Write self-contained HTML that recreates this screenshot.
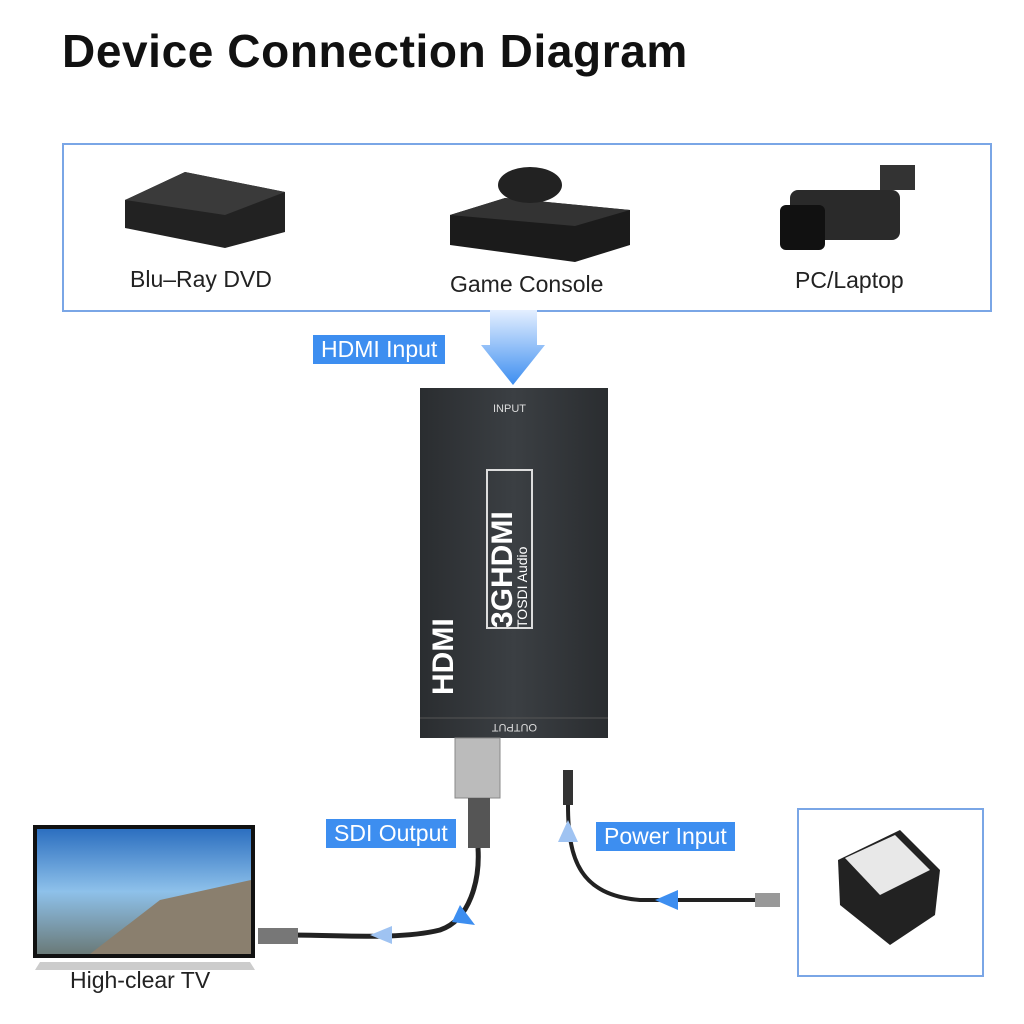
<!DOCTYPE html>
<html><head><meta charset="utf-8"><style>
body{margin:0;width:1024px;height:1024px;background:#fff;position:relative;overflow:hidden;font-family:"Liberation Sans",sans-serif}
.a{position:absolute}
.lbl{position:absolute;background:#3d8ef0;color:#fff;font-size:23px;line-height:29px;padding:0 8px}
.t{position:absolute;font-size:23px;color:#222}
</style></head><body>
<div class="a" style="left:62px;top:24px;font-size:46px;font-weight:bold;color:#111;letter-spacing:0.6px">Device Connection Diagram</div>
<div class="a" style="left:62px;top:143px;width:926px;height:165px;border:2px solid #7aa6e6"></div>
<svg class="a" style="left:0;top:0" width="1024" height="1024">
<defs>
<linearGradient id="g" x1="0" y1="0" x2="0" y2="1"><stop offset="0" stop-color="#e4efff"/><stop offset="1" stop-color="#3d8ef0"/></linearGradient>
<linearGradient id="box" x1="0" y1="0" x2="1" y2="0"><stop offset="0" stop-color="#2a2d30"/><stop offset="0.5" stop-color="#3b3f43"/><stop offset="1" stop-color="#2a2d30"/></linearGradient>
<linearGradient id="sky" x1="0" y1="0" x2="0" y2="1"><stop offset="0" stop-color="#2c6fc0"/><stop offset="0.5" stop-color="#8ec1ea"/><stop offset="1" stop-color="#6a7a78"/></linearGradient>
</defs>
<polygon points="125,200 185,172 285,192 285,232 225,248 125,228" fill="#222"/>
<polygon points="125,200 185,172 285,192 225,215" fill="#3a3a3a"/>
<polygon points="450,215 505,198 630,210 630,245 575,262 450,245" fill="#1b1b1b"/>
<polygon points="450,215 505,198 630,210 575,226" fill="#333"/>
<ellipse cx="530" cy="185" rx="32" ry="18" fill="#222"/>
<rect x="790" y="190" width="110" height="50" rx="8" fill="#2a2a2a"/>
<rect x="780" y="205" width="45" height="45" rx="6" fill="#111"/>
<rect x="880" y="165" width="35" height="25" fill="#333"/>
<polygon points="490,310 537,310 537,345 545,345 513,385 481,345 490,345" fill="url(#g)"/>
<rect x="420" y="388" width="188" height="350" fill="url(#box)"/>
<line x1="420" y1="718" x2="608" y2="718" stroke="#555"/>
<rect x="487" y="470" width="45" height="158" fill="none" stroke="#ddd" stroke-width="2"/>
<text x="0" y="0" transform="translate(512,628) rotate(-90)" fill="#fff" font-size="30" font-weight="bold">3GHDMI</text>
<text x="0" y="0" transform="translate(527,628) rotate(-90)" fill="#fff" font-size="14">TOSDI Audio</text>
<text x="0" y="0" transform="translate(453,695) rotate(-90)" fill="#fff" font-size="30" font-weight="bold">HDMI</text>
<text x="493" y="412" fill="#ddd" font-size="11">INPUT</text>
<text x="0" y="0" transform="translate(537,724) rotate(180)" fill="#ddd" font-size="11">OUTPUT</text>
<rect x="455" y="738" width="45" height="60" fill="#bbb" stroke="#888"/>
<rect x="468" y="798" width="22" height="50" fill="#555"/>
<path d="M478,848 C480,880 470,920 440,930 C400,940 340,935 290,935" stroke="#222" stroke-width="5" fill="none"/>
<rect x="258" y="928" width="40" height="16" fill="#777"/>
<polygon points="460,905 475,925 452,922" fill="#3d8ef0"/>
<polygon points="370,935 392,926 392,944" fill="#9fc3f2"/>
<rect x="563" y="770" width="10" height="35" fill="#333"/>
<path d="M568,805 C568,860 580,895 640,900 L760,900" stroke="#222" stroke-width="4" fill="none"/>
<rect x="755" y="893" width="25" height="14" fill="#999"/>
<polygon points="568,820 558,842 578,842" fill="#9fc3f2"/>
<polygon points="655,900 678,890 678,910" fill="#3d8ef0"/>
<rect x="33" y="825" width="222" height="133" fill="#111"/>
<rect x="37" y="829" width="214" height="125" fill="url(#sky)"/>
<polygon points="90,954 160,900 251,880 251,954" fill="#8a7f6e"/>
<polygon points="40,962 250,962 255,970 35,970" fill="#ccc"/>
<polygon points="838,860 900,830 940,870 935,915 890,945 840,905" fill="#222"/>
<polygon points="845,858 895,835 930,870 880,895" fill="#e8e8e8"/>
</svg>
<div class="a" style="left:797px;top:808px;width:183px;height:165px;border:2px solid #7aa6e6"></div>
<div class="t" style="left:130px;top:266px">Blu–Ray DVD</div>
<div class="t" style="left:450px;top:271px">Game Console</div>
<div class="t" style="left:795px;top:267px">PC/Laptop</div>
<div class="lbl" style="left:313px;top:335px">HDMI Input</div>
<div class="lbl" style="left:326px;top:819px">SDI Output</div>
<div class="lbl" style="left:596px;top:822px">Power Input</div>
<div class="t" style="left:70px;top:967px">High-clear TV</div>
</body></html>
